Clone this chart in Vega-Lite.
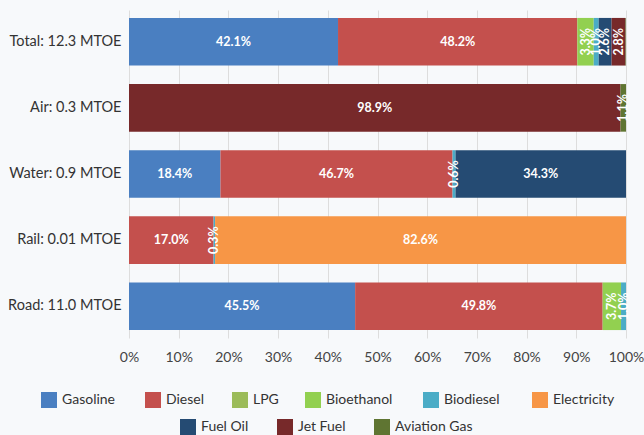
{
  "$schema": "https://vega.github.io/schema/vega-lite/v6.json",
  "width": 497,
  "height": 328,
  "autosize": "none",
  "padding": {"left": 129, "top": 10, "right": 18, "bottom": 97},
  "background": "#f7f9fb",
  "config": {
    "view": {"stroke": null},
    "font": "Lato",
    "axisX": {"title": null, "format": "%", "tickCount": 10, "ticks": false, "domain": false, "grid": true, "gridColor": "#dddddd", "labelFlush": false, "labelFontSize": 14, "labelColor": "#444444", "labelPadding": 12, "labelFont": "Lato"},
    "legend": {"title": null, "orient": "none", "direction": "horizontal", "symbolType": "square", "symbolSize": 256, "symbolStrokeWidth": 0, "labelFontSize": 14, "labelFont": "Lato", "labelColor": "#333333", "labelOffset": 5, "padding": 0}
  },
  "data": {"values": [
    {"mode": "Total: 12.3 MTOE", "fuel": "Gasoline", "value": 42.1},
    {"mode": "Total: 12.3 MTOE", "fuel": "Diesel", "value": 48.2},
    {"mode": "Total: 12.3 MTOE", "fuel": "Bioethanol", "value": 3.3},
    {"mode": "Total: 12.3 MTOE", "fuel": "Biodiesel", "value": 1.0},
    {"mode": "Total: 12.3 MTOE", "fuel": "Fuel Oil", "value": 2.6},
    {"mode": "Total: 12.3 MTOE", "fuel": "Jet Fuel", "value": 2.8},
    {"mode": "Total: 12.3 MTOE", "fuel": "Aviation Gas", "value": 0.1},
    {"mode": "Air: 0.3 MTOE", "fuel": "Jet Fuel", "value": 98.9},
    {"mode": "Air: 0.3 MTOE", "fuel": "Aviation Gas", "value": 1.1},
    {"mode": "Water: 0.9 MTOE", "fuel": "Gasoline", "value": 18.4},
    {"mode": "Water: 0.9 MTOE", "fuel": "Diesel", "value": 46.7},
    {"mode": "Water: 0.9 MTOE", "fuel": "Biodiesel", "value": 0.6},
    {"mode": "Water: 0.9 MTOE", "fuel": "Fuel Oil", "value": 34.3},
    {"mode": "Rail: 0.01 MTOE", "fuel": "Diesel", "value": 17.0},
    {"mode": "Rail: 0.01 MTOE", "fuel": "Biodiesel", "value": 0.3},
    {"mode": "Rail: 0.01 MTOE", "fuel": "Electricity", "value": 82.6},
    {"mode": "Road: 11.0 MTOE", "fuel": "Gasoline", "value": 45.5},
    {"mode": "Road: 11.0 MTOE", "fuel": "Diesel", "value": 49.8},
    {"mode": "Road: 11.0 MTOE", "fuel": "Bioethanol", "value": 3.7},
    {"mode": "Road: 11.0 MTOE", "fuel": "Biodiesel", "value": 1.0}
  ]},
  "transform": [
    {"calculate": "indexof(['Gasoline','Diesel','LPG','Bioethanol','Biodiesel','Electricity','Fuel Oil','Jet Fuel','Aviation Gas'], datum.fuel)", "as": "ord"},
    {"stack": "value", "groupby": ["mode"], "sort": [{"field": "ord", "order": "ascending"}], "offset": "normalize", "as": ["x0", "x1"]},
    {"calculate": "(datum.x0 + datum.x1) / 2", "as": "xm"},
    {"calculate": "format(datum.value, '.1f') + '%'", "as": "label"}
  ],
  "encoding": {
    "y": {
      "field": "mode", "type": "nominal",
      "sort": ["Total: 12.3 MTOE", "Air: 0.3 MTOE", "Water: 0.9 MTOE", "Rail: 0.01 MTOE", "Road: 11.0 MTOE"],
      "scale": {"paddingInner": 0.28, "paddingOuter": 0.12},
      "axis": {"title": null, "ticks": false, "domain": false, "labelFontSize": 14.5, "labelColor": "#333333", "labelPadding": 8, "labelFont": "Lato"}
    }
  },
  "layer": [
    {
      "transform": [{"filter": "datum.fuel == 'Gasoline'"}],
      "mark": {"type": "bar"},
      "encoding": {
        "x": {"field": "x0", "type": "quantitative", "scale": {"domain": [0, 1], "nice": false}, "axis": {"title": null}},
        "x2": {"field": "x1"},
        "color": {"field": "fuel", "type": "nominal", "scale": {"domain": ["Gasoline"], "range": ["#4a7fc1"]},
                  "legend": {"legendX": -88, "legendY": 382}}
      }
    },
    {
      "transform": [{"filter": "datum.fuel == 'Diesel'"}],
      "mark": {"type": "bar"},
      "encoding": {
        "x": {"field": "x0", "type": "quantitative", "scale": {"domain": [0, 1], "nice": false}, "axis": {"title": null}},
        "x2": {"field": "x1"},
        "color": {"field": "fuel", "type": "nominal", "scale": {"domain": ["Diesel"], "range": ["#c4504d"]},
                  "legend": {"legendX": 16, "legendY": 382}}
      }
    },
    {
      "transform": [{"filter": "datum.fuel == 'LPG'"}],
      "mark": {"type": "bar"},
      "encoding": {
        "x": {"field": "x0", "type": "quantitative", "scale": {"domain": [0, 1], "nice": false}, "axis": {"title": null}},
        "x2": {"field": "x1"},
        "color": {"field": "fuel", "type": "nominal", "scale": {"domain": ["LPG"], "range": ["#9bbb59"]},
                  "legend": {"legendX": 103, "legendY": 382}}
      }
    },
    {
      "transform": [{"filter": "datum.fuel == 'Bioethanol'"}],
      "mark": {"type": "bar"},
      "encoding": {
        "x": {"field": "x0", "type": "quantitative", "scale": {"domain": [0, 1], "nice": false}, "axis": {"title": null}},
        "x2": {"field": "x1"},
        "color": {"field": "fuel", "type": "nominal", "scale": {"domain": ["Bioethanol"], "range": ["#92d050"]},
                  "legend": {"legendX": 176, "legendY": 382}}
      }
    },
    {
      "transform": [{"filter": "datum.fuel == 'Biodiesel'"}],
      "mark": {"type": "bar"},
      "encoding": {
        "x": {"field": "x0", "type": "quantitative", "scale": {"domain": [0, 1], "nice": false}, "axis": {"title": null}},
        "x2": {"field": "x1"},
        "color": {"field": "fuel", "type": "nominal", "scale": {"domain": ["Biodiesel"], "range": ["#4bacc6"]},
                  "legend": {"legendX": 294, "legendY": 382}}
      }
    },
    {
      "transform": [{"filter": "datum.fuel == 'Electricity'"}],
      "mark": {"type": "bar"},
      "encoding": {
        "x": {"field": "x0", "type": "quantitative", "scale": {"domain": [0, 1], "nice": false}, "axis": {"title": null}},
        "x2": {"field": "x1"},
        "color": {"field": "fuel", "type": "nominal", "scale": {"domain": ["Electricity"], "range": ["#f79646"]},
                  "legend": {"legendX": 403, "legendY": 382}}
      }
    },
    {
      "transform": [{"filter": "datum.fuel == 'Fuel Oil'"}],
      "mark": {"type": "bar"},
      "encoding": {
        "x": {"field": "x0", "type": "quantitative", "scale": {"domain": [0, 1], "nice": false}, "axis": {"title": null}},
        "x2": {"field": "x1"},
        "color": {"field": "fuel", "type": "nominal", "scale": {"domain": ["Fuel Oil"], "range": ["#254b73"]},
                  "legend": {"legendX": 51, "legendY": 409}}
      }
    },
    {
      "transform": [{"filter": "datum.fuel == 'Jet Fuel'"}],
      "mark": {"type": "bar"},
      "encoding": {
        "x": {"field": "x0", "type": "quantitative", "scale": {"domain": [0, 1], "nice": false}, "axis": {"title": null}},
        "x2": {"field": "x1"},
        "color": {"field": "fuel", "type": "nominal", "scale": {"domain": ["Jet Fuel"], "range": ["#77292a"]},
                  "legend": {"legendX": 148, "legendY": 409}}
      }
    },
    {
      "transform": [{"filter": "datum.fuel == 'Aviation Gas'"}],
      "mark": {"type": "bar"},
      "encoding": {
        "x": {"field": "x0", "type": "quantitative", "scale": {"domain": [0, 1], "nice": false}, "axis": {"title": null}},
        "x2": {"field": "x1"},
        "color": {"field": "fuel", "type": "nominal", "scale": {"domain": ["Aviation Gas"], "range": ["#5f7532"]},
                  "legend": {"legendX": 245, "legendY": 409}}
      }
    },
    {
      "transform": [{"filter": "datum.value >= 5"}],
      "mark": {"type": "text", "color": "white", "fontWeight": "bold", "fontSize": 12.5, "font": "Lato", "align": "center", "baseline": "middle"},
      "encoding": {
        "x": {"field": "xm", "type": "quantitative", "axis": {"title": null}},
        "text": {"field": "label"}
      }
    },
    {
      "transform": [{"filter": "datum.value < 5 && datum.value >= 0.3"}],
      "mark": {"type": "text", "color": "white", "fontWeight": "bold", "fontSize": 12.5, "font": "Lato", "align": "center", "baseline": "middle", "angle": 270},
      "encoding": {
        "x": {"field": "xm", "type": "quantitative", "axis": {"title": null}},
        "text": {"field": "label"}
      }
    }
  ],
  "resolve": {"scale": {"color": "independent"}}
}
